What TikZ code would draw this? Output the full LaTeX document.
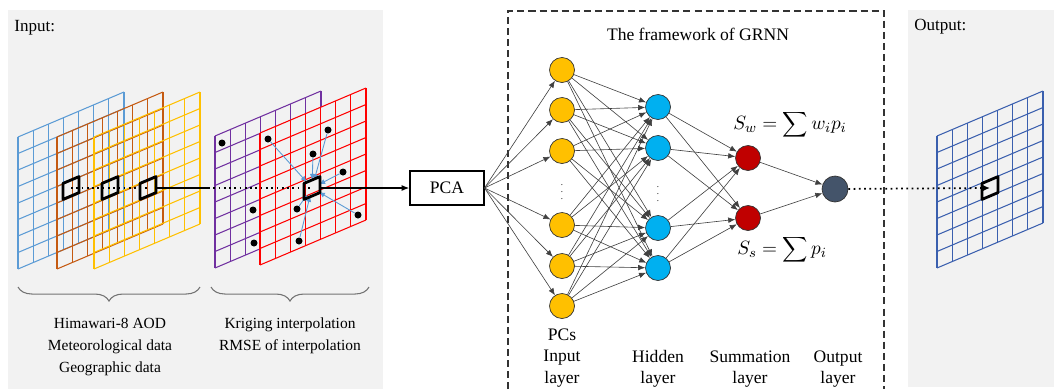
\documentclass[tikz,border=0pt]{standalone}
\usepackage{fontspec}
\setmainfont{Liberation Serif}
\usetikzlibrary{arrows.meta,decorations.pathreplacing}

\definecolor{panelgray}{HTML}{F2F2F2}
\definecolor{gblue}{HTML}{5B9BD5}
\definecolor{gorange}{HTML}{C55A11}
\definecolor{gyellow}{HTML}{FFC000}
\definecolor{gpurple}{HTML}{7030A0}
\definecolor{gred}{HTML}{FF0000}
\definecolor{gout}{HTML}{3A5FAE}
\definecolor{inyellow}{HTML}{FFC000}
\definecolor{hidblue}{HTML}{00B0F0}
\definecolor{sumred}{HTML}{C00000}
\definecolor{outslate}{HTML}{44546A}

% 7x8 skewed grid: colour, top-left x, top-left y
\newcommand{\pgrid}[3]{%
  \foreach \k in {0,...,7}
    \draw[#1, line width=0.6pt] ({#2+106*\k/7},{#3-45*\k/7}) -- ++(0,132);
  \foreach \k in {0,...,8}
    \draw[#1, line width=0.6pt] (#2,{#3+132*\k/8}) -- ++(106,-45);
}
% thick black selection cell round a named coordinate
\newcommand{\selbox}[1]{%
  \draw[selstyle, shift={(#1)}] (-8,-4.6) -- (8,-11.4) -- (8,4.6) -- (-8,11.4) -- cycle;
}

\tikzset{
  txt/.style={font=\fontsize{8.8}{12.7}\selectfont, inner sep=0pt},
  panellbl/.style={font=\fontsize{9.7}{12}\selectfont, inner sep=0pt, anchor=west},
  lbl/.style={font=\fontsize{10}{12}\selectfont, align=center, inner sep=0pt},
  formula/.style={font=\fontsize{11}{13}\selectfont, inner sep=0pt},
  selstyle/.style={draw=black, line width=1.6pt, line join=round},
  dotline/.style={draw=black, line width=1pt, dotted},
  solidline/.style={draw=black, line width=0.9pt},
  framebox/.style={draw=black!80, line width=0.6pt, dash pattern=on 4pt off 2.3pt},
  brace_style/.style={draw=black!55, line width=0.6pt, decorate, decoration={brace, amplitude=8pt}},
  kdot/.style={circle, fill=black, inner sep=0pt, minimum size=0.14cm},
  kri/.style={draw=gblue, line width=0.5pt, shorten >=4.5pt, -{Latex[length=3.5pt,width=3pt]}},
  net/.style={draw=black!75, line width=0.35pt, -{Latex[length=4pt,width=3.2pt]}},
  in_node/.style={circle, draw=black!80, fill=inyellow, minimum size=0.5cm, inner sep=0pt, line width=0.4pt},
  hid_node/.style={in_node, fill=hidblue},
  sum_node/.style={in_node, fill=sumred},
  out_node/.style={in_node, fill=outslate, minimum size=0.52cm},
  pcabox/.style={draw=black, line width=0.6pt, fill=white, minimum width=1.48cm, minimum height=0.68cm, font=\fontsize{10}{12}\selectfont}
}

\begin{document}
\begin{tikzpicture}[x=0.02cm, y=-0.02cm]
    \useasboundingbox (0,0) rectangle (1054,389);

    % panels
    \fill[panelgray] (8,10) rectangle (383,389);
    \fill[panelgray] (908,10) rectangle (1054,387);
    \draw[framebox] (508,389) -- (508,11) -- (884,11) -- (884,389);

    \node[panellbl] (inlbl) at (14,28) {Input:};
    \node[panellbl] (outlbl) at (914,27) {Output:};
    \node[lbl] (ttl) at (698,34) {The framework of GRNN};

    % input grids
    \pgrid{gblue}{18}{137}
    \pgrid{gorange}{57}{137}
    \pgrid{gyellow}{94}{137}
    \pgrid{gpurple}{215}{136}
    \fill[panelgray] (260,133) -- ++(106,-45) -- ++(0,132) -- ++(-106,45) -- cycle;
    \pgrid{gred}{260}{133}
    \pgrid{gout}{937}{136}

    % kriging stations
    \node[kdot] (d1) at (222,143) {};
    \node[kdot] (d2) at (268,139) {};
    \node[kdot] (d3) at (328,130) {};
    \node[kdot] (d4) at (313,154) {};
    \node[kdot] (d5) at (343,172) {};
    \node[kdot] (d6) at (253,210) {};
    \node[kdot] (d7) at (297,209) {};
    \node[kdot] (d8) at (358,215) {};
    \node[kdot] (d9) at (254,243) {};
    \node[kdot] (d10) at (299,241) {};

    \coordinate (b1) at (71,188);
    \coordinate (b2) at (110,188);
    \coordinate (b3) at (148,188);
    \coordinate (gap) at (208,188);
    \coordinate (br) at (312,188);
    \coordinate (bo) at (990,188);

    \foreach \d in {d2,d3,d4,d5,d7,d8,d10}
        \draw[kri] (\d) -- (br);

    \selbox{b1}
    \selbox{b2}
    \selbox{b3}
    \selbox{br}
    \selbox{bo}

    % braces and sources
    \draw[brace_style] (200,287) -- (18,287);
    \draw[brace_style] (369,287) -- (211,287);
    \node[txt, align=center] (srcl) at (110,347) {Himawari-8 AOD\\Meteorological data\\Geographic data};
    \node[txt, align=center] (krl) at (290,336) {Kriging interpolation\\RMSE of interpolation};

    % GRNN
    \node[pcabox] (pca) at (447,188) {PCA};

    \node[in_node] (i1) at (562,70) {};
    \node[in_node] (i2) at (562,110) {};
    \node[in_node] (i3) at (562,151) {};
    \node[in_node] (i4) at (562,225) {};
    \node[in_node] (i5) at (562,266) {};
    \node[in_node] (i6) at (562,306) {};
    \node[font=\tiny] (idots) at (562,187) {$\vdots$};

    \node[hid_node] (h1) at (658,107) {};
    \node[hid_node] (h2) at (658,148) {};
    \node[hid_node] (h3) at (658,228) {};
    \node[hid_node] (h4) at (658,268) {};
    \node[font=\tiny] (hdots) at (658,189) {$\vdots$};

    \node[sum_node] (s1) at (748,158) {};
    \node[sum_node] (s2) at (748,218) {};
    \node[out_node] (o) at (835,189) {};

    \node[formula] (sw) at (790,125) {$S_w=\displaystyle\sum w_ip_i$};
    \node[formula] (ss) at (782,250) {$S_s=\displaystyle\sum p_i$};

    \foreach \i in {1,...,6}
        \draw[net] (pca.east) -- (i\i);
    \foreach \i in {1,...,6}
        \foreach \j in {1,...,4}
            \draw[net] (i\i) -- (h\j);
    \foreach \j in {1,...,4}
        \foreach \s in {1,2}
            \draw[net] (h\j) -- (s\s);
    \draw[net] (s1) -- (o);
    \draw[net] (s2) -- (o);

    \node[lbl] (lin) at (562,358) {PCs\\Input\\layer};
    \node[lbl] (lhid) at (658,369) {Hidden\\layer};
    \node[lbl] (lsum) at (750,369) {Summation\\layer};
    \node[lbl] (lout) at (838,369) {Output\\layer};

    % data flow
    \draw[dotline] (b1) -- (b3);
    \draw[solidline, shorten <=4.5pt] (b3) -- (gap);
    \draw[dotline] (gap) -- (br);
    \draw[solidline, shorten <=4.5pt, -{Latex[length=4.5pt,width=3.5pt]}] (br) -- (pca);
    \draw[dotline, -{Latex[length=4pt,width=3.5pt]}] (o) -- (bo);

\end{tikzpicture}
\end{document}
